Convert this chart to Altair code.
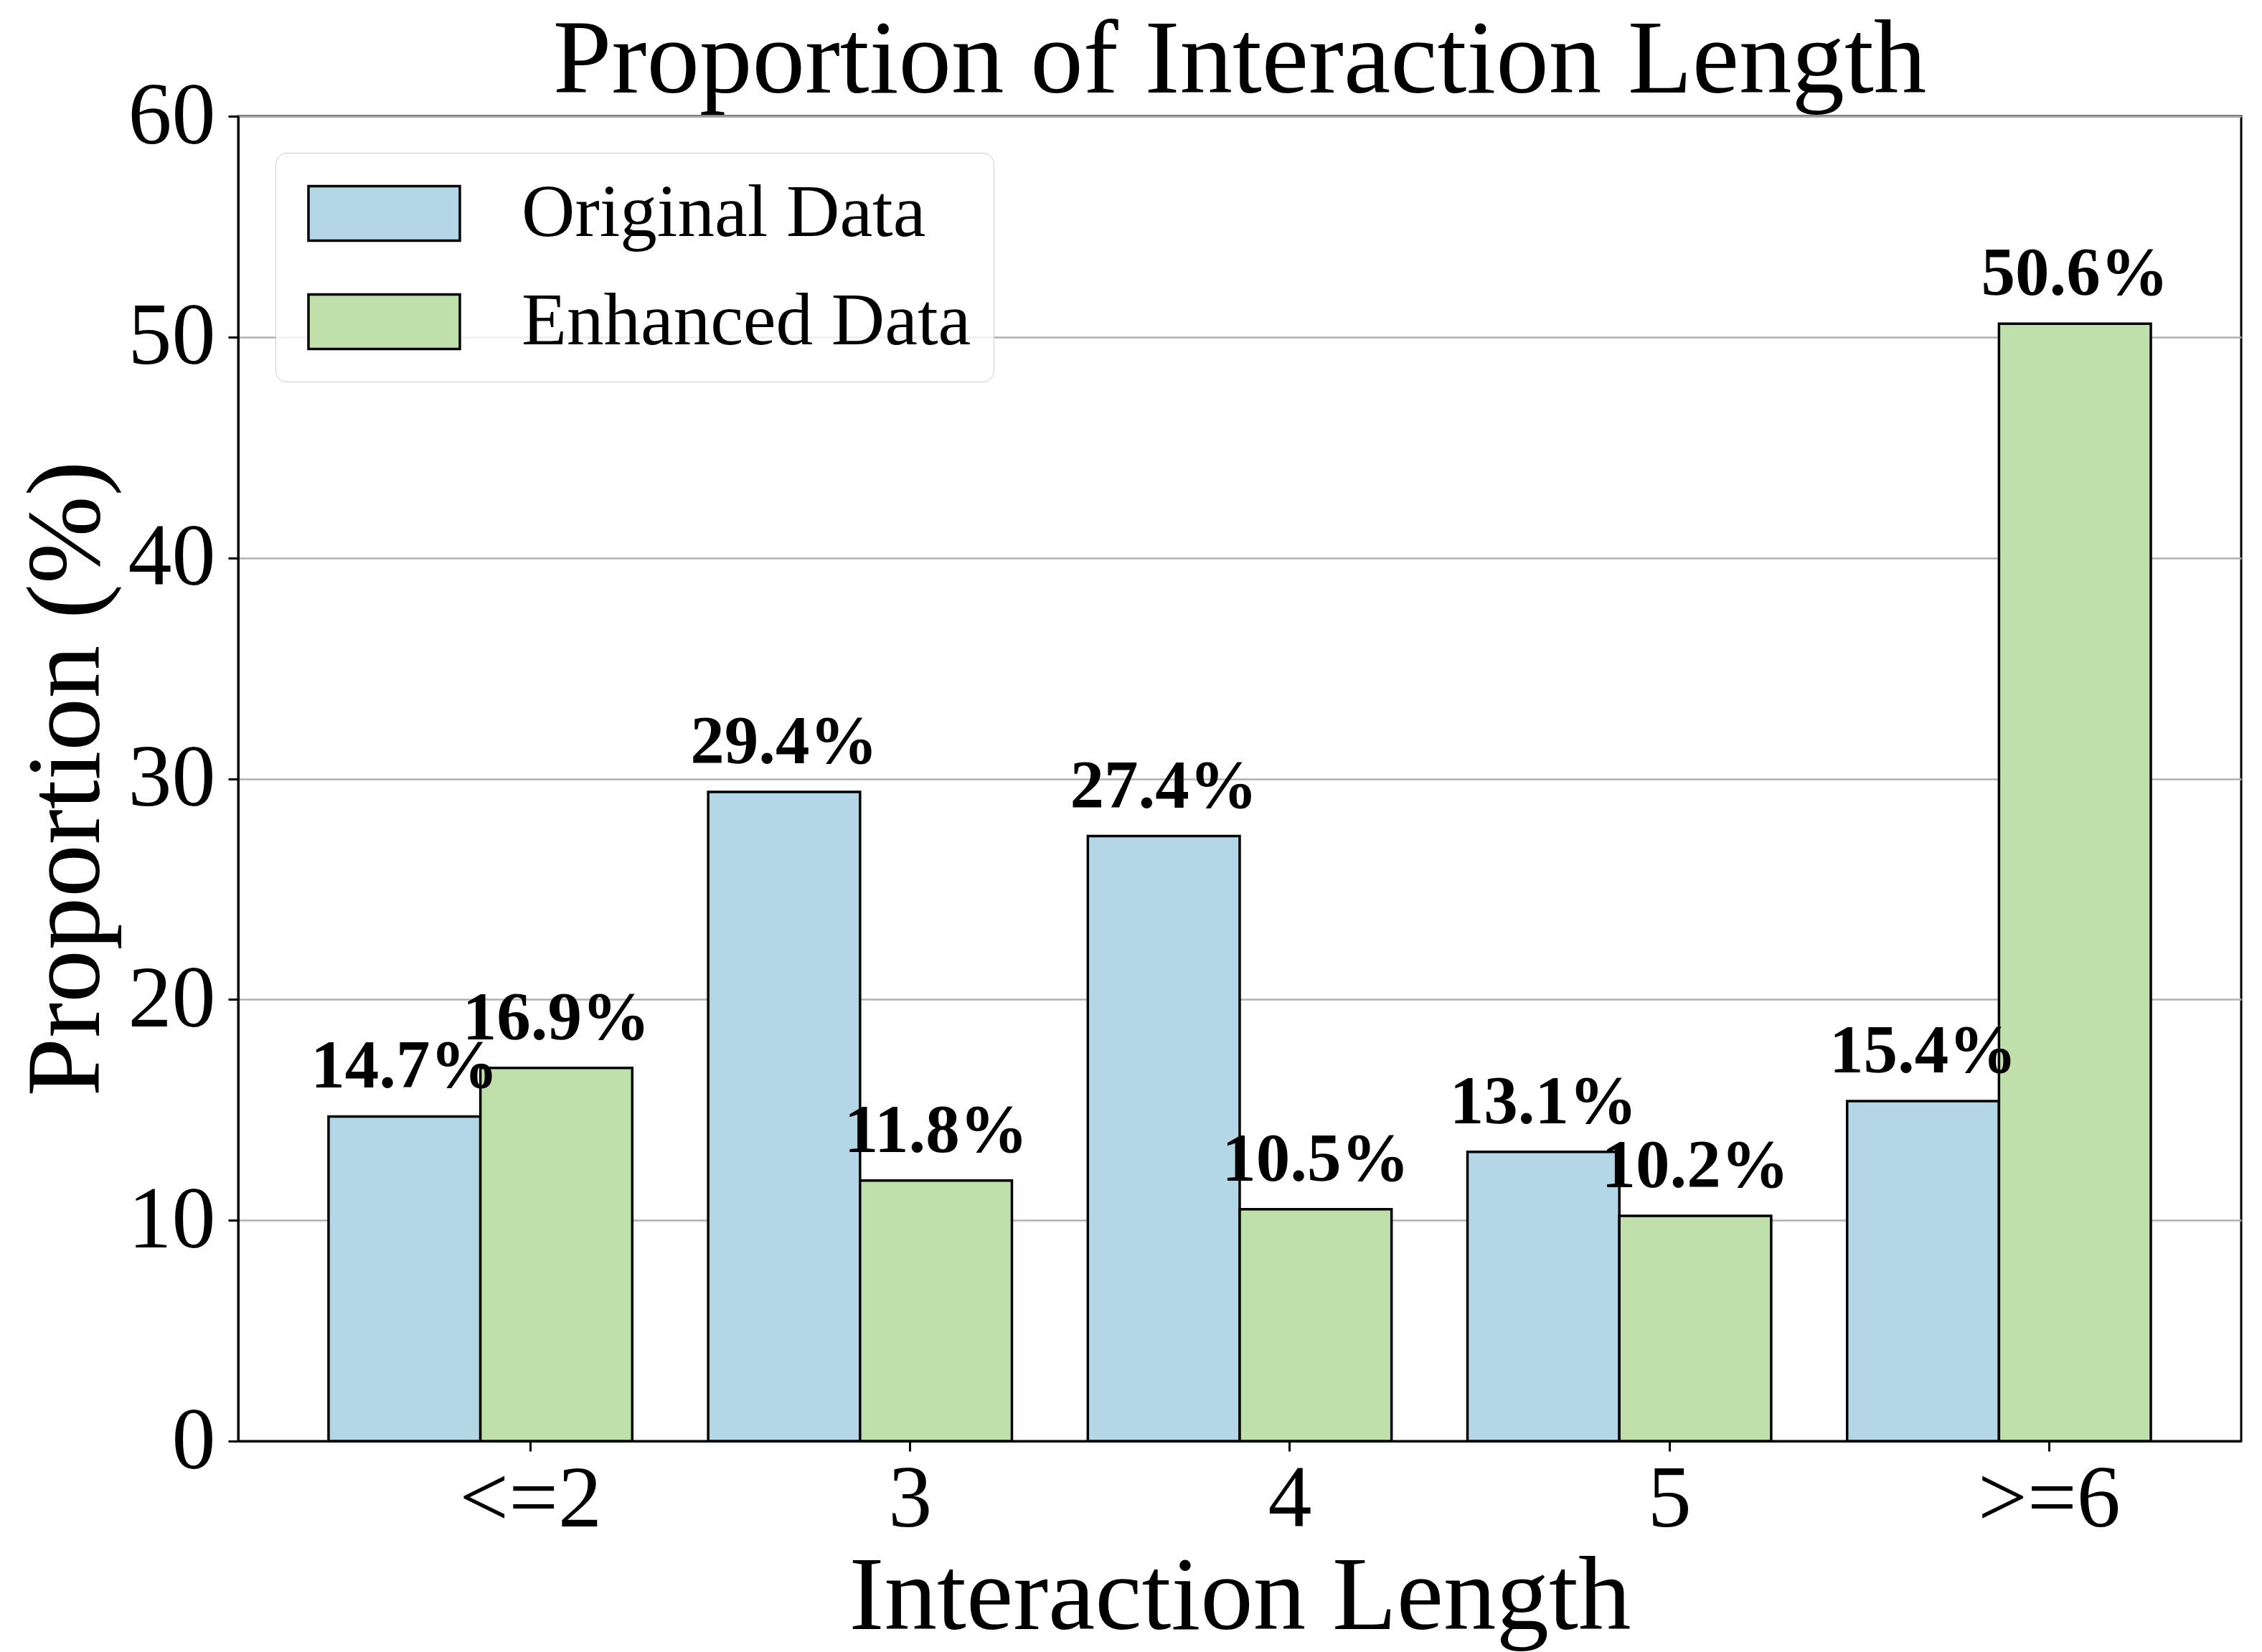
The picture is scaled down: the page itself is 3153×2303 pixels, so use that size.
import altair as alt
import pandas as pd

# Interaction-length buckets and the share (%) of samples in each
lengths = ["<=2", "3", "4", "5", ">=6"]
series = ["Original Data", "Enhanced Data"]
original = [14.7, 29.4, 27.4, 13.1, 15.4]
enhanced = [16.9, 11.8, 10.5, 10.2, 50.6]
colors = ["#B3D7E6", "#BFDFAB"]
y_ticks = [0, 10, 20, 30, 40, 50, 60]

rows = []
for name, vals in zip(series, [original, enhanced]):
    for length, v in zip(lengths, vals):
        rows.append({"length": length, "series": name, "value": v})
df = pd.DataFrame(rows)

FONT = "Liberation Serif"
W, H = 2792, 1847

x_enc = alt.X(
    "length:N",
    sort=lengths,
    scale=alt.Scale(paddingInner=0.2, paddingOuter=0.238),
    axis=alt.Axis(
        title="Interaction Length",
        labelAngle=0,
        bandPosition=0.665,
        labelOffset=70,
        labelLimit=0,
        grid=False,
        labelPadding=8,
        titleBaseline="alphabetic",
        titleX=1396,
        titleY=261,
    ),
)
xoff_enc = alt.XOffset("series:N", sort=series, scale=alt.Scale(paddingInner=0, paddingOuter=0))
y_enc = alt.Y(
    "value:Q",
    scale=alt.Scale(domain=[0, 60], nice=False),
    axis=alt.Axis(
        title="Proportion (%)",
        values=y_ticks,
        grid=True,
        gridColor="#b0b0b0",
        gridWidth=2.5,
        labelPadding=18,
        titleBaseline="alphabetic",
        titleX=-195,
        titleY=923,
    ),
)

# Legend swatches: a wide rectangle drawn inside a square symbol cell
bars = alt.Chart(df).mark_bar(stroke="black", strokeWidth=3.5).encode(
    x=x_enc,
    xOffset=xoff_enc,
    y=y_enc,
    color=alt.Color(
        "series:N",
        sort=series,
        scale=alt.Scale(domain=series, range=colors),
        legend=alt.Legend(
            title=None,
            orient="none",
            legendX=52,
            legendY=51,
            symbolType="M-0.748,-0.738H3.349V0.738H-0.748Z",
            symbolSize=10609,
            symbolStrokeColor="black",
            symbolStrokeWidth=3.5,
            symbolOpacity=1,
            labelFont=FONT,
            labelFontSize=103,
            labelColor="black",
            labelLimit=0,
            labelOffset=205,
            rowPadding=45,
            padding=31,
            fillColor="rgba(255,255,255,0.8)",
            strokeColor="#cccccc",
            cornerRadius=16,
        ),
    ),
)

labels = (
    alt.Chart(df)
    .transform_calculate(label="format(datum.value, '.1f') + '%'")
    .mark_text(
        font=FONT,
        fontWeight="bold",
        fontSize=95,
        baseline="alphabetic",
        dy=-40,
        color="black",
    )
    .encode(x=x_enc, xOffset=xoff_enc, y=y_enc, text="label:N")
)

chart = (
    alt.layer(bars, labels)
    .properties(
        width=W,
        height=H,
        title=alt.TitleParams(
            "Proportion of Interaction Length",
            font=FONT,
            fontSize=147,
            fontWeight="normal",
            color="black",
            anchor="middle",
            baseline="alphabetic",
            offset=-175,
        ),
        autosize=alt.AutoSizeParams(type="none"),
        padding={"left": 332, "top": 162, "right": 29, "bottom": 294},
        background="white",
    )
    .configure_view(stroke="black", strokeWidth=3)
    .configure_axis(
        labelFont=FONT,
        labelFontSize=122,
        labelColor="black",
        titleFont=FONT,
        titleFontSize=147,
        titleFontWeight="normal",
        titleColor="black",
        tickColor="black",
        tickWidth=3,
        tickSize=14,
        domainColor="black",
        domainWidth=3,
    )
)

chart.save("out.html", embed_options={"renderer": "svg", "actions": False})
